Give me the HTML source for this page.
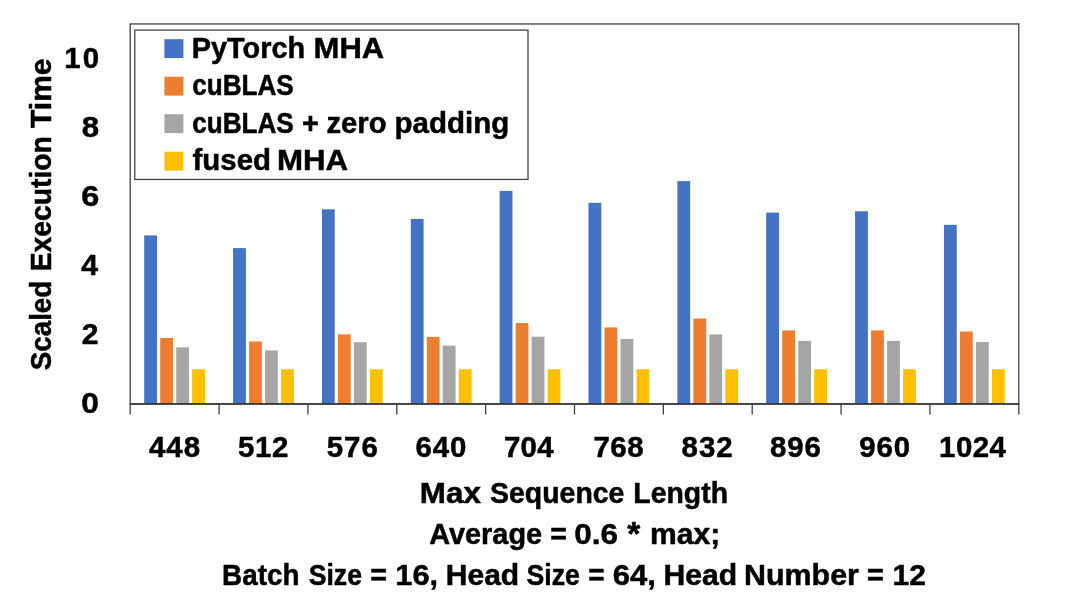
<!DOCTYPE html>
<html lang="en"><head><meta charset="utf-8"><title>Scaled Execution Time vs Max Sequence Length</title>
<style>html,body{margin:0;padding:0;background:#fff;}body{width:1080px;height:608px;overflow:hidden;}svg{display:block;}text{font-family:"Liberation Sans",Arial,sans-serif;font-weight:bold;fill:#000;stroke:#000;stroke-width:0.5px;stroke-linejoin:round;vector-effect:non-scaling-stroke;}</style></head><body>
<svg width="1080" height="608" viewBox="0 0 1080 608">
<rect x="0" y="0" width="1080" height="608" fill="#ffffff"/>
<g>
<rect x="144.20" y="235.40" width="12.8" height="168.50" fill="#4472C4"/>
<rect x="160.20" y="338.00" width="12.8" height="65.90" fill="#ED7D31"/>
<rect x="176.20" y="347.40" width="12.8" height="56.50" fill="#A5A5A5"/>
<rect x="192.20" y="369.25" width="12.8" height="34.65" fill="#FFC000"/>
</g>
<g>
<rect x="233.06" y="248.10" width="12.8" height="155.80" fill="#4472C4"/>
<rect x="249.06" y="341.50" width="12.8" height="62.40" fill="#ED7D31"/>
<rect x="265.06" y="350.40" width="12.8" height="53.50" fill="#A5A5A5"/>
<rect x="281.06" y="369.25" width="12.8" height="34.65" fill="#FFC000"/>
</g>
<g>
<rect x="321.92" y="209.30" width="12.8" height="194.60" fill="#4472C4"/>
<rect x="337.92" y="334.40" width="12.8" height="69.50" fill="#ED7D31"/>
<rect x="353.92" y="342.20" width="12.8" height="61.70" fill="#A5A5A5"/>
<rect x="369.92" y="369.25" width="12.8" height="34.65" fill="#FFC000"/>
</g>
<g>
<rect x="410.78" y="218.90" width="12.8" height="185.00" fill="#4472C4"/>
<rect x="426.78" y="336.90" width="12.8" height="67.00" fill="#ED7D31"/>
<rect x="442.78" y="345.60" width="12.8" height="58.30" fill="#A5A5A5"/>
<rect x="458.78" y="369.25" width="12.8" height="34.65" fill="#FFC000"/>
</g>
<g>
<rect x="499.64" y="190.90" width="12.8" height="213.00" fill="#4472C4"/>
<rect x="515.64" y="323.00" width="12.8" height="80.90" fill="#ED7D31"/>
<rect x="531.64" y="336.70" width="12.8" height="67.20" fill="#A5A5A5"/>
<rect x="547.64" y="369.25" width="12.8" height="34.65" fill="#FFC000"/>
</g>
<g>
<rect x="588.50" y="202.80" width="12.8" height="201.10" fill="#4472C4"/>
<rect x="604.50" y="327.40" width="12.8" height="76.50" fill="#ED7D31"/>
<rect x="620.50" y="338.90" width="12.8" height="65.00" fill="#A5A5A5"/>
<rect x="636.50" y="369.25" width="12.8" height="34.65" fill="#FFC000"/>
</g>
<g>
<rect x="677.36" y="181.10" width="12.8" height="222.80" fill="#4472C4"/>
<rect x="693.36" y="318.50" width="12.8" height="85.40" fill="#ED7D31"/>
<rect x="709.36" y="334.40" width="12.8" height="69.50" fill="#A5A5A5"/>
<rect x="725.36" y="369.25" width="12.8" height="34.65" fill="#FFC000"/>
</g>
<g>
<rect x="766.22" y="212.60" width="12.8" height="191.30" fill="#4472C4"/>
<rect x="782.22" y="330.40" width="12.8" height="73.50" fill="#ED7D31"/>
<rect x="798.22" y="340.90" width="12.8" height="63.00" fill="#A5A5A5"/>
<rect x="814.22" y="369.25" width="12.8" height="34.65" fill="#FFC000"/>
</g>
<g>
<rect x="855.08" y="211.30" width="12.8" height="192.60" fill="#4472C4"/>
<rect x="871.08" y="330.40" width="12.8" height="73.50" fill="#ED7D31"/>
<rect x="887.08" y="340.90" width="12.8" height="63.00" fill="#A5A5A5"/>
<rect x="903.08" y="369.25" width="12.8" height="34.65" fill="#FFC000"/>
</g>
<g>
<rect x="943.94" y="224.80" width="12.8" height="179.10" fill="#4472C4"/>
<rect x="959.94" y="331.50" width="12.8" height="72.40" fill="#ED7D31"/>
<rect x="975.94" y="342.00" width="12.8" height="61.90" fill="#A5A5A5"/>
<rect x="991.94" y="369.25" width="12.8" height="34.65" fill="#FFC000"/>
</g>
<rect x="130.2" y="23.95" width="888.60" height="379.95" fill="none" stroke="#404040" stroke-width="1.3"/>
<line x1="129.79999999999998" y1="403.9" x2="1019.1999999999999" y2="403.9" stroke="#333333" stroke-width="1.5"/>
<line x1="130.20" y1="403.9" x2="130.20" y2="414.5" stroke="#404040" stroke-width="1.3"/>
<line x1="219.06" y1="403.9" x2="219.06" y2="414.5" stroke="#404040" stroke-width="1.3"/>
<line x1="307.92" y1="403.9" x2="307.92" y2="414.5" stroke="#404040" stroke-width="1.3"/>
<line x1="396.78" y1="403.9" x2="396.78" y2="414.5" stroke="#404040" stroke-width="1.3"/>
<line x1="485.64" y1="403.9" x2="485.64" y2="414.5" stroke="#404040" stroke-width="1.3"/>
<line x1="574.50" y1="403.9" x2="574.50" y2="414.5" stroke="#404040" stroke-width="1.3"/>
<line x1="663.36" y1="403.9" x2="663.36" y2="414.5" stroke="#404040" stroke-width="1.3"/>
<line x1="752.22" y1="403.9" x2="752.22" y2="414.5" stroke="#404040" stroke-width="1.3"/>
<line x1="841.08" y1="403.9" x2="841.08" y2="414.5" stroke="#404040" stroke-width="1.3"/>
<line x1="929.94" y1="403.9" x2="929.94" y2="414.5" stroke="#404040" stroke-width="1.3"/>
<line x1="1018.80" y1="403.9" x2="1018.80" y2="414.5" stroke="#404040" stroke-width="1.3"/>
<rect x="134.8" y="30.1" width="393.20" height="149.35" fill="#ffffff" stroke="#3c3c3c" stroke-width="1.25"/>
<rect x="164.4" y="39.20" width="19" height="18.9" fill="#4472C4"/>
<rect x="164.4" y="76.70" width="19" height="18.9" fill="#ED7D31"/>
<rect x="164.4" y="114.20" width="19" height="18.9" fill="#A5A5A5"/>
<rect x="164.4" y="151.70" width="19" height="18.9" fill="#FFC000"/>
<g font-size="28.63">
<text transform="translate(191.72,57.60) scale(1.0100,1)">PyTorch</text>
<text transform="translate(313.58,57.60) scale(1.0826,1)">MHA</text>
</g>
<g font-size="28.63">
<text transform="translate(192.23,95.20) scale(0.9121,1)">cuBLAS</text>
</g>
<g font-size="28.63">
<text transform="translate(192.23,132.70) scale(0.9121,1)">cuBLAS</text>
<text transform="translate(302.04,132.70) scale(1.0100,1)">+</text>
<text transform="translate(326.48,132.70) scale(1.0213,1)">zero</text>
<text transform="translate(394.61,132.70) scale(1.0297,1)">padding</text>
</g>
<g font-size="28.63">
<text transform="translate(192.55,170.20) scale(1.0275,1)">fused</text>
<text transform="translate(276.96,170.20) scale(1.0922,1)">MHA</text>
</g>
<g font-size="29.8">
<text transform="translate(419.85,503.00) scale(1.0528,1)">Max</text>
<text transform="translate(490.03,503.00) scale(0.9554,1)">Sequence</text>
<text transform="translate(633.35,503.00) scale(0.9532,1)">Length</text>
</g>
<g font-size="29.8">
<text transform="translate(429.13,544.20) scale(0.9709,1)">Average</text>
<text transform="translate(550.17,544.20) scale(0.9567,1)">=</text>
<text transform="translate(574.20,544.20) scale(1.0367,1)" font-size="30.38">0.6</text>
<text transform="translate(627.35,545.40) scale(0.9940,1)" font-size="33.67">*</text>
<text transform="translate(649.97,544.20) scale(1.0099,1)">max;</text>
</g>
<g font-size="29.8">
<text transform="translate(222.09,585.10) scale(0.9347,1)">Batch</text>
<text transform="translate(308.68,585.10) scale(0.8935,1)">Size</text>
<text transform="translate(370.36,585.10) scale(0.9634,1)">=</text>
<text transform="translate(395.31,585.10) scale(1.0134,1)" font-size="30.38">16,</text>
<text transform="translate(445.74,585.10) scale(1.0085,1)">Head</text>
<text transform="translate(526.48,585.10) scale(0.8953,1)">Size</text>
<text transform="translate(588.29,585.10) scale(0.9366,1)">=</text>
<text transform="translate(612.81,585.10) scale(1.0233,1)" font-size="30.38">64,</text>
<text transform="translate(663.53,585.10) scale(1.0114,1)">Head</text>
<text transform="translate(744.02,585.10) scale(1.0204,1)">Number</text>
<text transform="translate(867.05,585.10) scale(0.9701,1)">=</text>
<text transform="translate(892.56,585.10) scale(0.9880,1)" font-size="30.38">12</text>
</g>
<g transform="translate(51.10,369.70) rotate(-90)" font-size="29.8">
<text transform="translate(-0.55,0.00) scale(0.9319,1)">Scaled</text>
<text transform="translate(98.46,0.00) scale(0.9490,1)">Execution</text>
<text transform="translate(241.81,0.00) scale(1.0050,1)">Time</text>
</g>
<g font-size="30.38">
<text transform="translate(148.90,457.40) scale(0.9700,1)" letter-spacing="1.075">448</text>
<text transform="translate(238.09,457.40) scale(0.9700,1)" letter-spacing="0.603">512</text>
<text transform="translate(326.84,457.40) scale(0.9700,1)" letter-spacing="0.930">576</text>
<text transform="translate(415.42,457.40) scale(0.9700,1)" letter-spacing="0.964">640</text>
<text transform="translate(503.98,457.40) scale(0.9700,1)" letter-spacing="0.262">704</text>
<text transform="translate(593.48,457.40) scale(0.9700,1)" letter-spacing="0.518">768</text>
<text transform="translate(681.61,457.40) scale(0.9700,1)" letter-spacing="0.953">832</text>
<text transform="translate(770.01,457.40) scale(0.9700,1)" letter-spacing="0.842">896</text>
<text transform="translate(859.23,457.40) scale(0.9700,1)" letter-spacing="0.961">960</text>
<text transform="translate(939.09,457.40) scale(0.9700,1)" letter-spacing="0.434">1024</text>
<text transform="translate(64.19,68.04) scale(0.9700,1)" letter-spacing="2.146">10</text>
<text transform="translate(81.66,137.11) scale(1.0262,1)">8</text>
<text transform="translate(81.26,206.18) scale(1.0683,1)">6</text>
<text transform="translate(81.29,275.25) scale(0.9949,1)">4</text>
<text transform="translate(81.81,344.33) scale(0.9907,1)">2</text>
<text transform="translate(81.30,413.40) scale(1.0444,1)">0</text>
</g>
</svg></body></html>
